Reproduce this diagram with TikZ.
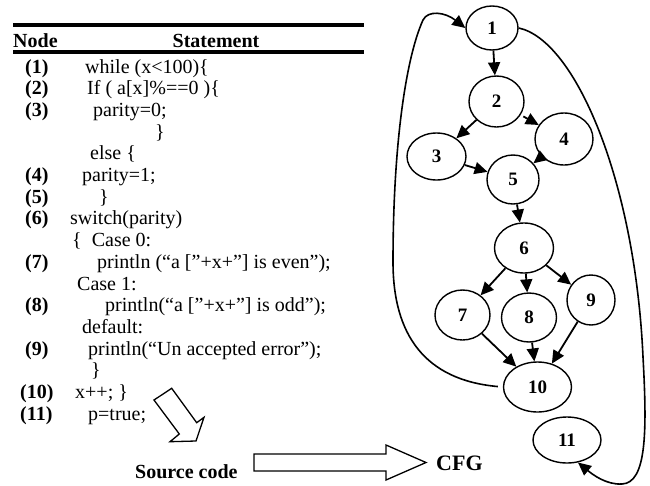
\documentclass[tikz,border=0pt]{standalone}
\usepackage{fontspec}
\setmainfont{Liberation Serif}
\usetikzlibrary{arrows.meta,shapes.geometric}

\begin{document}
\begin{tikzpicture}[x=1pt,y=-1pt,
  cell/.style={anchor=base west,inner sep=0pt,font=\fontsize{20}{24}\selectfont},
  lbl/.style={anchor=base west,inner sep=0pt,font=\fontsize{20}{24}\selectfont\bfseries},
  vert/.style={draw,ellipse,line width=1.4pt,inner sep=0pt,font=\fontsize{19}{22}\selectfont\bfseries},
  flow/.style={line width=1.8pt,-{Triangle[length=13pt,width=12pt]}},
  backedge/.style={line width=1.6pt,-{Triangle[length=13pt,width=12pt]}},
  block/.style={draw,line width=1.3pt,fill=white,line join=miter},
  rule/.style={line width=3.2pt}
]
\useasboundingbox (0,0) rectangle (650,485);

% ---------- statement table ----------
\coordinate (r1a) at (13,25);  \coordinate (r1b) at (364,25);
\coordinate (r2a) at (13,52);  \coordinate (r2b) at (364,52);
\draw[rule] (r1a) -- (r1b);
\draw[rule] (r2a) -- (r2b);
\node[lbl] (hnode) at (13,47) {Node};
\node[anchor=base,inner sep=0pt,font=\fontsize{20}{24}\selectfont\bfseries] (hstmt) at (216,47) {Statement};

\node[lbl] (l1) at (25,73.0) {(1)};    \node[cell] (s1) at (85,73.0) {while (x<100)\{};
\node[lbl] (l2) at (25,94.7) {(2)};    \node[cell] (s2) at (87,94.7) {If ( a[x]\%==0 )\{};
\node[lbl] (l3) at (25,116.4) {(3)};   \node[cell] (s3) at (93,116.4) {parity=0;};
                                       \node[cell] (s3b) at (155,138.1) {\}};
                                       \node[cell] (s3c) at (90,159.8) {else \{};
\node[lbl] (l4) at (25,181.5) {(4)};   \node[cell] (s4) at (82,181.5) {parity=1;};
\node[lbl] (l5) at (25,203.2) {(5)};   \node[cell] (s5) at (99,203.2) {\}};
\node[lbl] (l6) at (25,224.9) {(6)};   \node[cell] (s6) at (70,224.9) {switch(parity)};
                                       \node[cell] (s6b) at (72,246.6) {\{\ \ Case 0:};
\node[lbl] (l7) at (25,268.3) {(7)};   \node[cell] (s7) at (97,268.3) {println (“a [”+x+”] is even”);};
                                       \node[cell] (s7b) at (77,290.0) {Case 1:};
\node[lbl] (l8) at (25,311.7) {(8)};   \node[cell] (s8) at (105,311.7) {println(“a [”+x+”] is odd”);};
                                       \node[cell] (s8b) at (82,333.4) {default:};
\node[lbl] (l9) at (25,355.1) {(9)};   \node[cell] (s9) at (88,355.1) {println(“Un accepted error”);};
                                       \node[cell] (s9b) at (91,376.8) {\}};
\node[lbl] (l10) at (20,398.5) {(10)}; \node[cell] (s10) at (75,398.5) {x++; \}};
\node[lbl] (l11) at (20,420.2) {(11)}; \node[cell] (s11) at (88,420.2) {p=true;};

% ---------- block arrows and captions ----------
\draw[block] (154,400) -- (171.7,388.3) -- (196.7,422.7) -- (204,417.3)
  -- (196,441) -- (170,441.7) -- (179.3,434) -- cycle;
\node[lbl] (src) at (135,478) {Source code};
\draw[block] (254,454) -- (386,454) -- (386,445) -- (426,462.5)
  -- (386,480) -- (386,471) -- (254,471) -- cycle;
\node[anchor=base west,inner sep=0pt,font=\fontsize{22}{26}\selectfont\bfseries] (cfg) at (436,470) {CFG};

% ---------- control flow graph ----------
\node[vert,minimum width=52pt,minimum height=44pt] (n1) at (492,28) {1};
\node[vert,minimum width=55pt,minimum height=51pt] (n2) at (496.5,101.5) {2};
\node[vert,minimum width=59pt,minimum height=47pt] (n3) at (436.5,156.5) {3};
\node[vert,minimum width=58pt,minimum height=52pt] (n4) at (564,139) {4};
\node[vert,minimum width=52pt,minimum height=49pt] (n5) at (513,179.5) {5};
\node[vert,minimum width=59pt,minimum height=50pt] (n6) at (524,248) {6};
\node[vert,minimum width=55pt,minimum height=50pt] (n7) at (462.5,315) {7};
\node[vert,minimum width=55pt,minimum height=49pt] (n8) at (529,317.5) {8};
\node[vert,minimum width=48pt,minimum height=50pt] (n9) at (591,300) {9};
\node[vert,minimum width=68pt,minimum height=50pt] (n10) at (537.5,387) {10};
\node[vert,minimum width=68pt,minimum height=46pt] (n11) at (567,440) {11};

\draw[flow] (n1) -- (n2);
\draw[flow] (n2) -- (n3);
\draw[flow,shorten <=3pt] (n2) -- (n4);
\draw[flow] (n3) -- (n5);
\draw[flow] (n4) -- (n5);
\draw[flow] (n5) -- (n6);
\draw[flow] (n6) -- (n7);
\draw[flow] (n6) -- (n8);
\draw[flow] (n6) -- (n9);
\draw[flow] (n7) -- (n10);
\draw[flow] (n8) -- (n10);
\draw[flow] (n9) -- (n10);

% loop back from the end of the body to the while test
\draw[backedge,shorten <=5pt] (n10.west) .. controls (425,380) and (393,335) .. (393,262)
  .. controls (393,150) and (405,60) .. (423,20)
  .. controls (428,10) and (445,12) .. (n1.west);
% loop exit to the statement after the loop
\draw[backedge] (n1.east) .. controls (575,40) and (635,180) .. (643,357)
  .. controls (647,430) and (647,483) .. (622,484)
  .. controls (606,485) and (592,474) .. (n11.-64);
\end{tikzpicture}
\end{document}
